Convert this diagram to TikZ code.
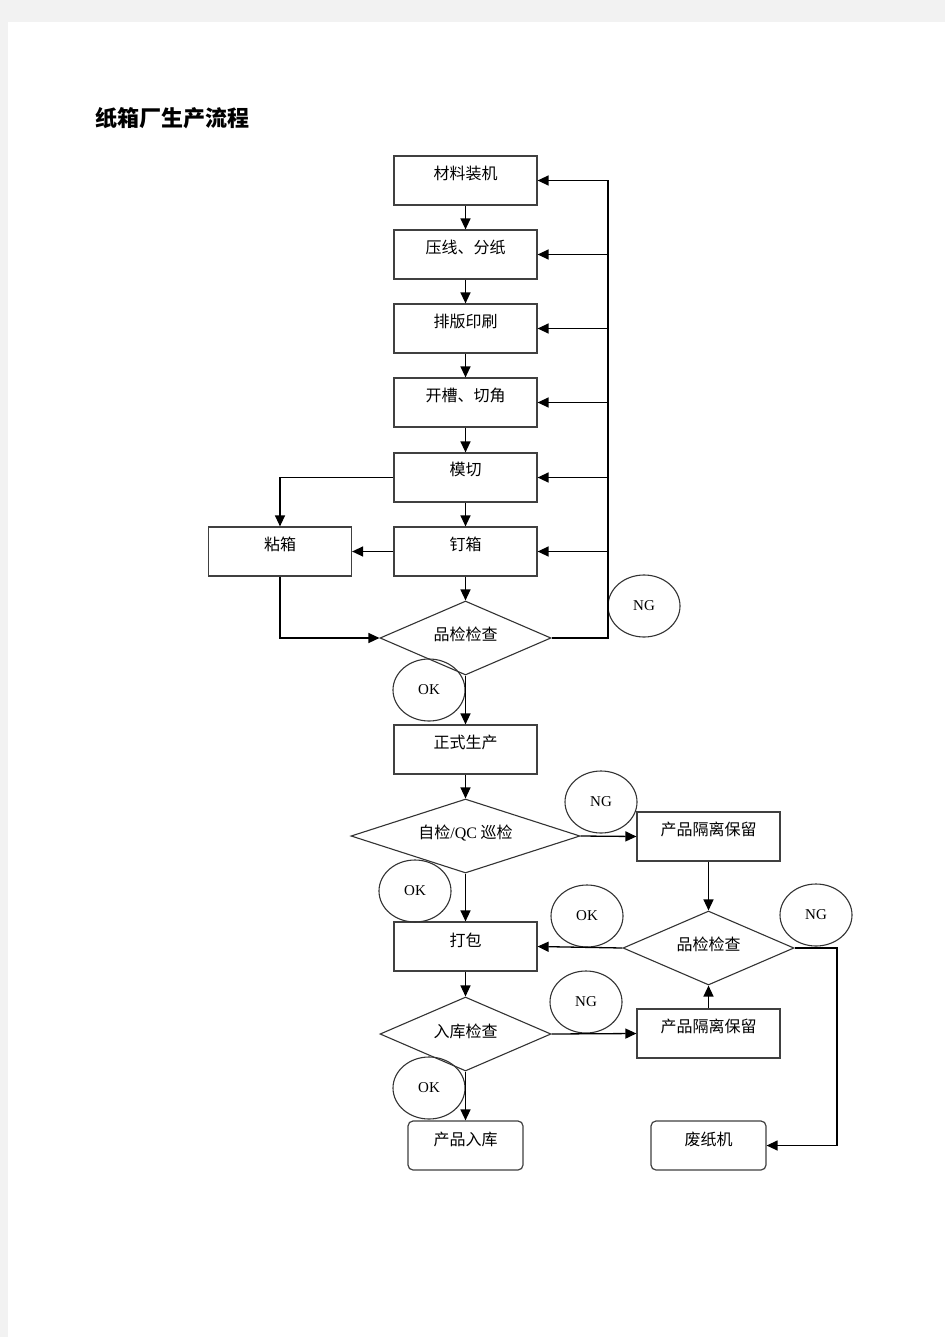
\documentclass[tikz,border=0pt]{standalone}
\usepackage{fontspec}
\setmainfont{Liberation Serif}
\newfontfamily\cjk{Noto Sans CJK SC}
\usetikzlibrary{shapes.geometric,arrows.meta}
\definecolor{pagegray}{HTML}{F2F2F2}
\tikzset{
  box/.style={draw=black!75, line width=1.2pt, minimum width=143pt, minimum height=49pt, inner sep=0pt},
  rbox/.style={box, rounded corners=5pt, minimum width=115pt},
  dia/.style={diamond, draw=black!80, line width=1.1pt, inner sep=0pt, aspect=2.3, font=\fontsize{16pt}{18pt}\selectfont\cjk},
  txt/.style={inner sep=0pt, font=\fontsize{16pt}{18pt}\selectfont\cjk},
  tag/.style={ellipse, draw=black!80, line width=1.1pt, minimum width=72pt, minimum height=62pt, inner sep=0pt, font=\fontsize{15pt}{17pt}\selectfont},
  conn/.style={line width=1.3pt, draw=black},
  arr/.style={conn, -{Triangle[length=11pt,width=10pt]}}
}
\begin{document}
\begin{tikzpicture}[x=1pt,y=-1pt]
\useasboundingbox (0,0) rectangle (945,1337);
\fill[pagegray] (0,0) rectangle (945,1337);
\fill[white] (8,22) rectangle (945,1337);

\node[anchor=west, inner sep=0pt, font=\fontsize{22pt}{24pt}\selectfont\cjk\bfseries] (title) at (95,118) {纸箱厂生产流程};

% main column boxes
\node[box] (b1) at (465.5,180.5) {};
\node[box] (b2) at (465.5,254.5) {};
\node[box] (b3) at (465.5,328.5) {};
\node[box] (b4) at (465.5,402.5) {};
\node[box] (b5) at (465.5,477.5) {};
\node[box] (b6) at (465.5,551.5) {};
\node[box] (nx) at (280,551.5) {};
\node[box] (zs) at (465.5,749.5) {};
\node[box] (dbx) at (465.5,946.5) {};
\node[box] (gl1) at (708.5,836.5) {};
\node[box] (gl2) at (708.5,1033.5) {};
\node[rbox] (rk) at (465.5,1145.5) {};
\node[rbox] (fz) at (708.5,1145.5) {};

\node[txt] (t1) at ([yshift=-18pt]b1.north) {材料装机};
\node[txt] (t2) at ([yshift=-18pt]b2.north) {压线、分纸};
\node[txt] (t3) at ([yshift=-18pt]b3.north) {排版印刷};
\node[txt] (t4) at ([yshift=-18pt]b4.north) {开槽、切角};
\node[txt] (t5) at ([yshift=-17pt]b5.north) {模切};
\node[txt] (t6) at ([yshift=-18pt]b6.north) {钉箱};
\node[txt] (tnx) at ([yshift=-18pt]nx.north) {粘箱};
\node[txt] (tzs) at ([yshift=-18pt]zs.north) {正式生产};
\node[txt] (tdb) at ([yshift=-19pt]dbx.north) {打包};
\node[txt] (tg1) at ([yshift=-18pt]gl1.north) {产品隔离保留};
\node[txt] (tg2) at ([yshift=-18pt]gl2.north) {产品隔离保留};
\node[txt] (trk) at ([yshift=-19pt]rk.north) {产品入库};
\node[txt] (tfz) at ([yshift=-19pt]fz.north) {废纸机};

% diamonds
\node[dia, minimum width=171pt, minimum height=74pt] (d1) at (465.5,638) {};
\node[dia, minimum width=229pt, minimum height=74pt] (d2) at (465.5,836) {};
\node[dia, minimum width=171pt, minimum height=74pt] (d3) at (708.5,948) {};
\node[dia, minimum width=171pt, minimum height=74pt] (d4) at (465.5,1034) {};
\node[txt] (td1) at (465.5,634) {品检检查};
\node[txt] (td2) at (465.5,833) {自检{\rmfamily/QC} 巡检};
\node[txt] (td3) at (708.5,944) {品检检查};
\node[txt] (td4) at (465.5,1031) {入库检查};

% tags
\node[tag] (ng1) at (644,606) {NG};
\node[tag] (ok1) at (429,690) {OK};
\node[tag] (ng2) at (601,802) {NG};
\node[tag] (ok2) at (415,891) {OK};
\node[tag] (ok3) at (587,916) {OK};
\node[tag] (ng3) at (816,915) {NG};
\node[tag] (ng4) at (586,1002) {NG};
\node[tag] (ok4) at (429,1088) {OK};

% main flow
\draw[arr] (b1) -- (b2);
\draw[arr] (b2) -- (b3);
\draw[arr] (b3) -- (b4);
\draw[arr] (b4) -- (b5);
\draw[arr] (b5) -- (b6);
\draw[arr] (b6) -- (d1.north);
\draw[arr] (d1.south) -- (zs.north);
\draw[arr] (zs) -- (d2.north);
\draw[arr] (d2.south) -- (dbx.north);
\draw[arr] (dbx) -- (d4.north);
\draw[arr] (d4.south) -- (rk.north);

% side branch
\draw[arr] (b5.west) -| (nx.north);
\draw[arr] (b6.west) -- (nx.east);
\draw[arr] (nx.south) |- (d1.west);

% feedback loop
\coordinate (fbB) at (608,638);
\coordinate (fbT) at (608,180.5);
\draw[conn] (d1.east) -- (fbB) -- (fbT);
\draw[arr] (fbT) -- (b1.east);
\draw[arr] (b2.east -| fbT) -- (b2.east);
\draw[arr] (b3.east -| fbT) -- (b3.east);
\draw[arr] (b4.east -| fbT) -- (b4.east);
\draw[arr] (b5.east -| fbT) -- (b5.east);
\draw[arr] (b6.east -| fbT) -- (b6.east);

% right side
\draw[arr] (d2.east) -- (gl1.west);
\draw[arr] (gl1.south) -- (d3.north);
\draw[arr] (d3.west) -- (dbx.east);
\draw[arr] (d4.east) -- (gl2.west);
\draw[arr] (gl2.north) -- (d3.south);
\coordinate (rc) at (837,948);
\draw[arr] (d3.east) -- (rc) |- (fz.east);
\end{tikzpicture}
\end{document}
